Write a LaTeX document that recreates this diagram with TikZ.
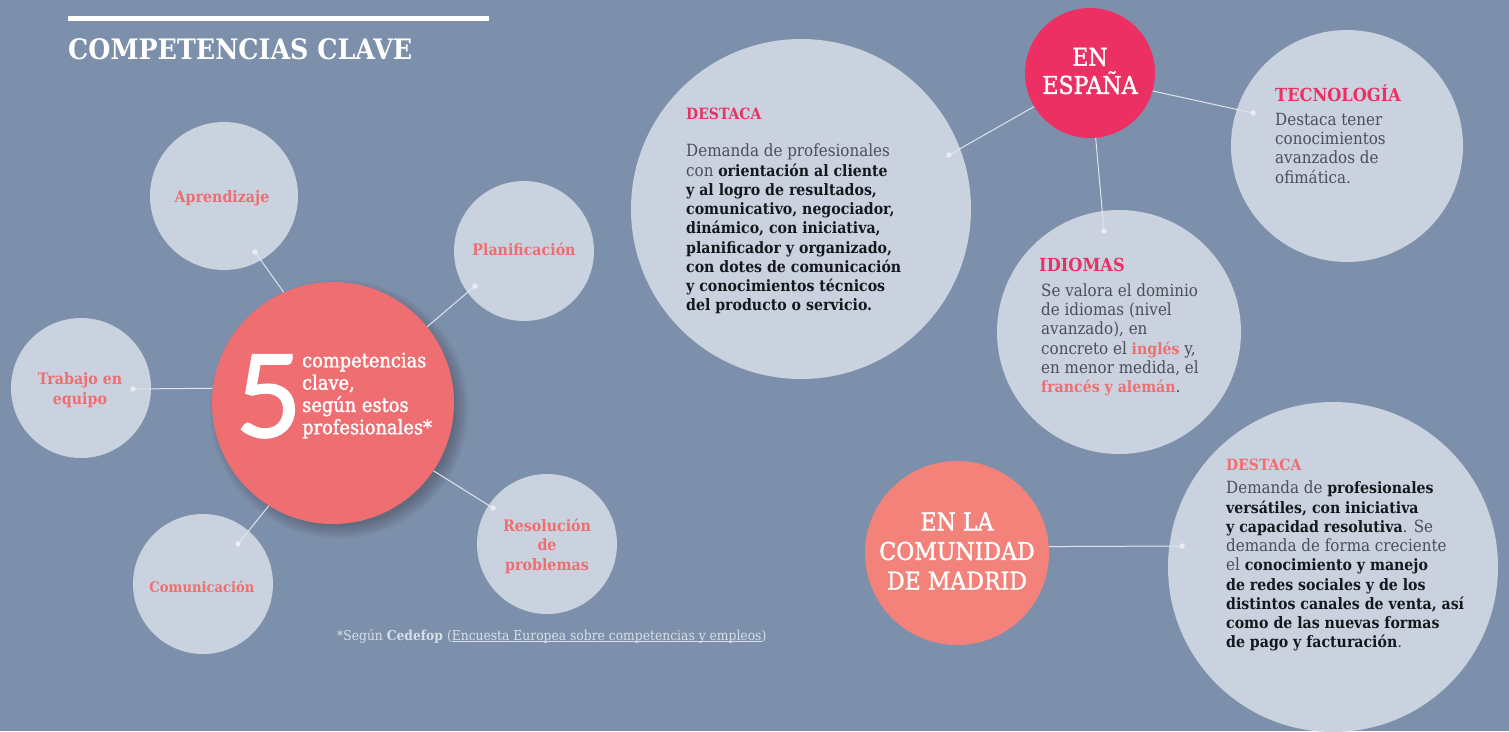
\documentclass[tikz,border=0pt]{standalone}
\usepackage{fontspec}
\setmainfont{DejaVu Serif}[FakeStretch=0.9]
\newfontfamily\medfont{DejaVu Serif}[FakeStretch=0.9,FakeBold=1.5]
\newfontfamily\fivefont{Lato}[FakeBold=1.5]
\usetikzlibrary{calc}
\definecolor{bgc}{HTML}{7D90AB}
\definecolor{lightc}{HTML}{C9D2DE}
\definecolor{hubc}{HTML}{EE6E71}
\definecolor{espc}{HTML}{EC3063}
\definecolor{madc}{HTML}{F2827A}
\definecolor{greyt}{HTML}{4A4F59}
\definecolor{blackt}{HTML}{15171C}
\newcommand{\bt}[1]{{\fontsize{15.7}{19.3}\selectfont\bfseries\color{blackt}#1}}
\newcommand{\pk}[1]{{\fontsize{15.7}{19.3}\selectfont\bfseries\color{hubc}#1}}
\newlength{\ulw}
\newcommand{\ulin}[1]{\settowidth{\ulw}{#1}\rlap{\rule[-2pt]{\ulw}{0.6pt}}#1}
\tikzset{
  x=1pt,y=-1pt,
  sat/.style={circle,fill=lightc,inner sep=0pt},
  satt/.style={inner sep=0pt,align=center,text=hubc,font=\fontsize{15.8}{19.5}\selectfont\bfseries},
  body/.style={anchor=north west,inner sep=0pt,align=left,text=greyt,font=\fontsize{16.8}{19.25}\selectfont},
  head/.style={anchor=base west,inner sep=0pt,font=\fontsize{15.5}{17}\selectfont\bfseries},
  bighead/.style={anchor=base west,inner sep=0pt,text=espc,font=\fontsize{18}{20}\selectfont\bfseries},
  hubb/.style={circle,inner sep=0pt,align=center,text=white},
  wire/.style={draw=lightc!60!white,line width=1pt},
  dotc/.style={circle,fill=lightc!40!white,inner sep=0pt,minimum size=5.5pt},
}
\begin{document}
\begin{tikzpicture}
\useasboundingbox (0,0) rectangle (1509,731);
\fill[bgc] (0,0) rectangle (1509,731);
% title
\fill[white] (68,16) rectangle (489,21);
\node[anchor=base west,inner sep=0pt,text=white,font=\fontsize{28.2}{30}\selectfont\bfseries] (title) at (68,59) {COMPETENCIAS CLAVE};
% satellites
\node[sat,minimum size=148pt] (apr) at (224,196) {};
\node[sat,minimum size=140pt] (pla) at (524,251) {};
\node[sat,minimum size=140pt] (tra) at (81,388) {};
\node[sat,minimum size=140pt] (com) at (203,584) {};
\node[sat,minimum size=140pt] (res) at (547,544) {};
\node[sat,minimum size=340pt] (des) at (801,209) {};
\node[sat,minimum size=232pt] (tec) at (1347,146) {};
\node[sat,minimum size=244pt] (idi) at (1119,332) {};
\node[sat,minimum size=330pt] (dem) at (1333,567) {};
\node[satt] (aprt) at (222,198) {Aprendizaje};
\node[satt] (plat) at (524,249) {Planificación};
\node[satt] (trat) at (80,390) {Trabajo en\\equipo};
\node[satt,font=\fontsize{14.6}{19.5}\selectfont\bfseries] (comt) at (202,587) {Comunicación};
\node[satt] (rest) at (547,546) {Resolución\\de\\problemas};
% hub shadow
\foreach \r in {130,129,...,116}
  \fill[black,opacity=0.016] (339,409) circle[radius=\r];
% connector ends
\coordinate (dapr) at (255,252);
\coordinate (dpla) at (475,286);
\coordinate (dtra) at (133,389);
\coordinate (dcom) at (238,544);
\coordinate (dres) at (493,508);
\coordinate (ddes) at (949,155);
\coordinate (dtec) at (1253,113);
\coordinate (didi) at (1104,231);
\coordinate (ddem) at (1182,546);
% hubs
\node[hubb,fill=hubc,minimum size=242pt] (hub) at (333,403) {};
\node[hubb,fill=espc,minimum size=130pt] (esp) at (1090,73) {};
\node[hubb,fill=madc,minimum size=184pt] (mad) at (957,553) {};
\node[inner sep=0pt,align=center,text=white,font=\fontsize{24.5}{28.2}\selectfont\medfont] (espt) at (1090,71) {EN\\ESPAÑA};
\node[inner sep=0pt,align=center,text=white,font=\fontsize{24.5}{29.6}\selectfont\medfont] (madt) at (957,551) {EN LA\\COMUNIDAD\\DE MADRID};
% connectors
\draw[wire] (hub.114) -- (dapr);
\draw[wire] (hub.39.7) -- (dpla);
\draw[wire] (hub.173.3) -- (dtra);
\draw[wire] (hub.238) -- (dcom);
\draw[wire] (hub.-34) -- (dres);
\draw[wire] (esp.211.4) -- (ddes);
\draw[wire] (esp.-16.4) -- (dtec);
\draw[wire] (esp.-85.6) -- (didi);
\draw[wire] (mad.4.4) -- (ddem);
\foreach \d in {dapr,dpla,dtra,dcom,dres,ddes,dtec,didi,ddem}
  \node[dotc] at (\d) {};
% hub text
\node[anchor=base west,inner sep=0pt,text=white,font=\fontsize{115}{115}\selectfont\fivefont] (five) at (235,437) {5};
\node[anchor=north west,inner sep=0pt,align=left,text=white,font=\fontsize{19.8}{22.3}\selectfont\medfont] (hubt) at (302,352.5) {competencias\\clave,\\según estos\\profesionales*};
% right-hand texts
\node[head,text=espc] (h1) at (686,119) {DESTACA};
\node[body] (t1) at (686,144) {Demanda de profesionales\\con \bt{orientación al cliente}\\\bt{y al logro de resultados,}\\\bt{comunicativo, negociador,}\\\bt{dinámico, con iniciativa,}\\\bt{planificador y organizado,}\\\bt{con dotes de comunicación}\\\bt{y conocimientos técnicos}\\\bt{del producto o servicio.}};
\node[bighead] (h2) at (1275,101) {TECNOLOGÍA};
\node[body] (t2) at (1275,113) {Destaca tener\\conocimientos\\avanzados de\\ofimática.};
\node[bighead] (h3) at (1039,271) {IDIOMAS};
\node[body] (t3) at (1041,283.5) {Se valora el dominio\\de idiomas (nivel\\avanzado), en\\concreto el \pk{inglés} y,\\en menor medida, el\\\pk{francés y alemán}.};
\node[head,text=hubc] (h4) at (1226,470) {DESTACA};
\node[body] (t4) at (1226,481) {Demanda de \bt{profesionales}\\\bt{versátiles, con iniciativa}\\\bt{y capacidad resolutiva}. Se\\demanda de forma creciente\\el \bt{conocimiento y manejo}\\\bt{de redes sociales y de los}\\\bt{distintos canales de venta, así}\\\bt{como de las nuevas formas}\\\bt{de pago y facturación}.};
% footnote
\node[anchor=base west,inner sep=0pt,text=lightc!70!white,font=\fontsize{13.7}{15}\selectfont] (foot) at (337,640) {*Según \textbf{Cedefop} (\ulin{Encuesta Europea sobre competencias y empleos})};
\end{tikzpicture}
\end{document}
